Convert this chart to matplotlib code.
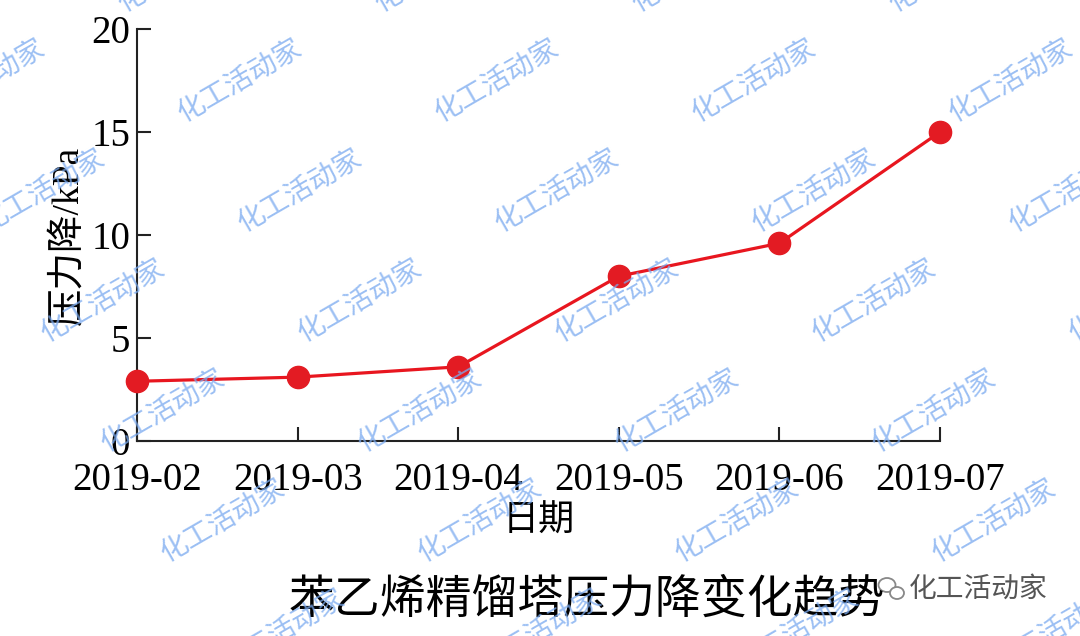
import matplotlib.pyplot as plt
from matplotlib.patches import Ellipse

# 数据
dates = ["2019-02", "2019-03", "2019-04", "2019-05", "2019-06", "2019-07"]
pressure_drop = [2.9, 3.1, 3.6, 8.0, 9.6, 15.0]
y_ticks = [0, 5, 10, 15, 20]

plt.rcParams["font.family"] = ["Liberation Serif", "Noto Sans CJK SC"]

fig = plt.figure(figsize=(10.8, 6.36), dpi=100)
ax = fig.add_axes([0.1269, 0.3066, 0.7435, 0.6478])

x = list(range(len(dates)))
ax.plot(x, pressure_drop, color="#e8161f", linewidth=2.3, marker="o",
        markersize=16, markerfacecolor="#e31b23", markeredgecolor="#e31b23",
        clip_on=False, zorder=3)

ax.set_xlim(0, len(dates) - 1)
ax.set_ylim(0, 20)
ax.set_xticks(x)
ax.set_xticklabels(dates)
ax.set_yticks(y_ticks)

for s in ["top", "right"]:
    ax.spines[s].set_visible(False)
for s in ["left", "bottom"]:
    ax.spines[s].set_linewidth(1.5)
    ax.spines[s].set_color("#222222")

ax.tick_params(direction="in", length=10, width=1.5, color="#222222",
               labelsize=28)
ax.tick_params(axis="x", pad=15)
ax.tick_params(axis="y", pad=5)

ax.set_ylabel("压力降/kPa", fontsize=27, labelpad=4)
ax.set_xlabel("日期", fontsize=26, family=["Noto Sans CJK SC"], labelpad=3)

fig.text(0.543, 0.057, "苯乙烯精馏塔压力降变化趋势", fontsize=33,
         family=["Noto Sans CJK SC"], ha="center", va="center", color="black")
fig.text(0.906, 0.075, "化工活动家", fontsize=20, family=["Noto Sans CJK SC"],
         ha="center", va="center", color="#555555")

# 右下角图标
fig.patches.append(Ellipse((887 / 1080, 1 - 585 / 636), 17 / 1080, 14 / 636,
                           transform=fig.transFigure, fill=False,
                           edgecolor="#888888", linewidth=1.3))
fig.patches.append(Ellipse((897 / 1080, 1 - 593 / 636), 14 / 1080, 12 / 636,
                           transform=fig.transFigure, facecolor="white",
                           edgecolor="#888888", linewidth=1.3))

# 水印
for r in range(-1, 7):
    for c in range(-1, 5):
        px = 240 + c * 257 + r * 60
        py = 80 + r * 110
        if -80 < px < 1160 and -40 < py < 680:
            fig.text(px / 1080, 1 - py / 636, "化工活动家", fontsize=20,
                     family=["Noto Sans CJK SC"], color="#7aaaf0", alpha=0.75,
                     rotation=30, ha="center", va="center", zorder=10)

fig.savefig("out.png", dpi=100)
